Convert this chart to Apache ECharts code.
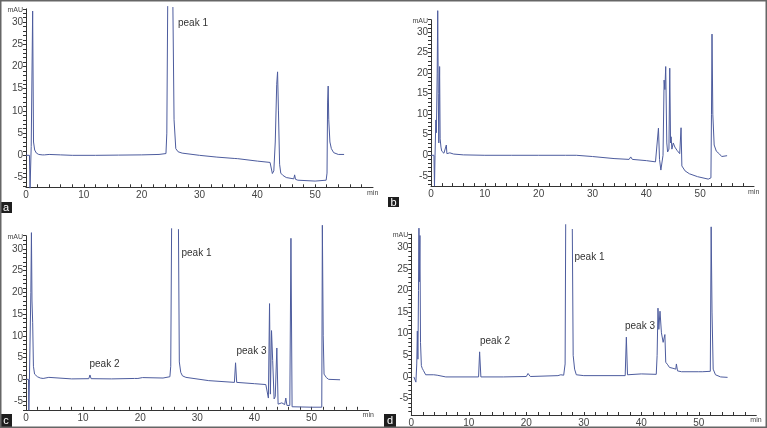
<!DOCTYPE html>
<html><head><meta charset="utf-8">
<script src="https://cdn.jsdelivr.net/npm/echarts@6/dist/echarts.min.js"></script>
<style>html,body{margin:0;padding:0;background:#fff}#c{width:767px;height:428px}</style>
</head><body><div id="c"></div>
<script>
// ---- data (retention time in min, absorbance in mAU; null = detector off-scale gap) ----
const aTime = [0,0.6,0.7,0.9,1.15,1.3,1.5,1.8,2.2,2.8,3.0,3.2,4,6,8,12,16,20,23,24.2,24.35,24.5,25.0,25.4,25.6,25.9,26.3,27,30,33,36,36.3,36.6,40,42.2,42.4,42.6,42.85,43.1,43.35,43.5,43.65,43.85,44.05,44.4,44.7,45,46.3,46.45,46.6,47,50,51.9,52.05,52.15,52.25,52.35,52.55,52.8,53.2,54,55];
const aMAU  = [0,0,-7.4,2,32.5,3,1.2,0.5,0.2,0.1,0.4,0.1,0.2,0.1,0,0,0.05,0.1,0.2,0.4,5,33.6,null,33.4,8,1.5,0.8,0.5,0,-0.4,-0.7,-0.4,-0.75,-1.3,-1.6,-1.8,-4.1,-3.5,3,16,18.8,10,-2,-4,-4.5,-4.2,-5,-5.3,-4.4,-5.4,-5.6,-5.8,-5.6,-4,12,15.6,8,3,1.5,0.6,0.2,0.2];

const bTime = [0,0.55,0.65,0.75,0.9,1.0,1.15,1.25,1.35,1.45,1.6,1.7,1.85,2.0,2.4,2.75,2.85,2.95,3.5,3.8,4.2,6,10,15,20,25,27,30,34,36.8,37.1,37.4,40,41.7,42.0,42.25,42.45,42.7,42.9,43.1,43.3,43.45,43.6,43.8,43.95,44.2,44.35,44.5,44.6,44.75,45.0,45.3,45.7,46.2,46.45,46.6,47.2,48,49.5,51.5,52.0,52.1,52.2,52.35,52.6,53.0,53.6,54,55];
const bMAU  = [0,0,-7.5,0,8.6,5.5,20,35.2,15,3,21.6,4,2,1,0.5,0.4,2.5,0.4,0.6,0.6,0.3,0.1,0,0,0,0,0,-0.3,-0.8,-1.0,-0.4,-1.0,-1.3,-1.6,-1.2,6.6,-1,-3.6,-4.0,0,18.3,16,21.6,3,0.8,1.5,21.2,3,4.5,1.5,3,2,1.2,0.4,6.7,-2.6,-3.8,-4.5,-5.2,-5.8,-5.5,10,29.5,10,2.5,1,0.3,-0.3,-0.1];

const cTime = [0,0.45,0.5,0.6,0.85,0.95,1.05,1.17,1.3,1.5,2.0,2.3,2.5,2.7,3.0,4.0,4.3,8,11.0,11.2,11.4,15,19.0,19.3,19.6,20.4,20.7,24,25.2,25.35,25.5,26.1,26.7,26.85,27.1,27.4,28,32,36.5,36.7,36.9,40,42.0,42.3,42.45,42.65,42.8,43.0,43.2,43.45,43.65,43.93,44.15,44.8,45.3,45.5,45.7,46.2,46.4,46.6,50,51.8,51.9,52.05,52.2,52.6,53,55];
const cMAU  = [0,0,-7.1,0,20,33.7,18,13,3,1.2,0.6,0.8,0.3,0.7,0.2,0.45,0.1,0.1,0.15,1.0,0.15,0.1,0.2,0.6,0.2,0.4,0.15,0.3,0.6,3,34.7,null,34.5,4,1.6,0.8,0.45,-0.3,-0.7,3.8,-0.7,-1.0,-1.2,-1.5,-4.3,17.4,-3.4,11.2,4.3,-4.5,-4,7.2,-5.7,-5.4,-5.8,-4.3,-6,-6,32.4,-6.3,-6.4,-6.4,35.4,10,1.2,0.4,0,-0.1];

const dTime = [0.45,0.7,0.8,0.95,1.05,1.15,1.25,1.33,1.4,1.5,1.6,1.75,1.9,2.1,2.5,3.9,4.1,4.5,4.7,6,11.7,11.88,12.1,16,20.0,20.3,20.7,25.5,26,26.5,26.75,26.85,27.4,28.0,28.15,28.4,28.7,30,37.2,37.4,37.6,40,42.6,42.75,42.9,43.05,43.25,43.5,43.8,44.1,44.25,44.6,44.9,45.5,46.0,46.1,46.3,47,50,50.3,50.6,52.0,52.15,52.3,52.5,52.9,53.8,55];
const dMAU  = [0,-0.3,-1.2,3,10.6,4.1,20,34.4,22,32.7,8,2.6,2.0,1.5,0.5,0.5,0.2,0.4,0.1,0,0,5.8,0,0,0.1,0.8,0.1,0.3,0.5,0.4,3,35.3,null,34.2,5,1.8,0.5,0.3,0.3,9.2,0.5,0.7,0.6,5,15.9,11,15.2,10.2,8,9.8,3.4,2.8,2.2,2.0,1.8,3,1.4,1.2,1.2,1.5,1.2,1.3,34.7,15,1.8,0.5,0,-0.1];

const xTickLabels = [0,10,20,30,40,50];
const xMinorTicks = [0,2,4,6,8,10,12,14,16,18,20,22,24,26,28,30,32,34,36,38,40,42,44,46,48,50,52,54,56,58];
const yTickLabels = [-5,0,5,10,15,20,25,30];
const panelLetters = ['a','b','c','d'];
const peakNames = ['peak 1','peak 2','peak 3'];

// ---- layout ----
const panels = [
  {time:aTime, mau:aMAU, ymin:-7.2, ymax:33, left:26,    top:8.8,   width:347, height:178.5},
  {time:bTime, mau:bMAU, ymin:-7.5, ymax:33, left:431,   top:19.7,  width:323, height:166.4},
  {time:cTime, mau:cMAU, ymin:-7,   ymax:33, left:26,    top:235.7, width:342.6, height:174.1},
  {time:dTime, mau:dMAU, ymin:-8.8, ymax:33, left:411.3, top:234.2, width:345, height:183.1}
];
const FONT = 'Liberation Sans, Arial, sans-serif';
const LINE = '#4d5c9e';
const AX = '#333';

function intTicks(a,b){const r=[];for(let v=Math.ceil(a);v<=Math.floor(b);v++)r.push(v);return r;}

const grid=[], xAxis=[], yAxis=[], series=[];
panels.forEach((p,i)=>{
  grid.push({left:p.left, top:p.top, width:p.width, height:p.height, containLabel:false});
  xAxis.push({type:'value', gridIndex:i, min:0, max:60,
    name:'min', nameLocation:'end', nameGap:-6,
    nameTextStyle:{fontSize:7, color:'#444', fontFamily:FONT, align:'left', verticalAlign:'top', padding:[2,0,0,0]},
    axisLine:{show:true, onZero:false, lineStyle:{color:AX, width:1}},
    axisTick:{show:true, inside:true, length:3, customValues:xMinorTicks, lineStyle:{color:AX, width:1}},
    axisLabel:{show:true, customValues:xTickLabels, fontSize:10, color:'#444', margin:3, fontFamily:FONT},
    splitLine:{show:false}});
  yAxis.push({type:'value', gridIndex:i, min:p.ymin, max:p.ymax,
    name:'mAU', nameLocation:'end', nameGap:-1,
    nameTextStyle:{fontSize:7, color:'#444', fontFamily:FONT, align:'right', verticalAlign:'middle', padding:[0,3,0,0]},
    axisLine:{show:true, lineStyle:{color:AX, width:1}},
    axisTick:{show:true, inside:false, length:3, customValues:intTicks(p.ymin,p.ymax), lineStyle:{color:AX, width:1}},
    axisLabel:{show:true, customValues:yTickLabels, fontSize:10, color:'#444', margin:3, fontFamily:FONT},
    splitLine:{show:false}});
  series.push({type:'line', xAxisIndex:i, yAxisIndex:i, showSymbol:false, symbol:'none', clip:false, connectNulls:false,
    lineStyle:{color:LINE, width:1}, data:p.time.map((t,k)=>[t, p.mau[k] === null ? '-' : p.mau[k]]), animation:false});
});

const textStyle = {fontSize:10, fill:'#333', fontFamily:FONT};
const peakLabels = [
  {name:peakNames[0], x:178,   y:23},
  {name:peakNames[0], x:181.5, y:253},
  {name:peakNames[1], x:89.5,  y:364.5},
  {name:peakNames[2], x:236.5, y:351},
  {name:peakNames[0], x:574.5, y:257},
  {name:peakNames[1], x:480,   y:341.5},
  {name:peakNames[2], x:625,   y:326}
];
const letterBoxes = [
  {x:0,   y:202, w:12, h:11},
  {x:388, y:197, w:11, h:10},
  {x:0,   y:414, w:12, h:13},
  {x:384, y:414, w:12, h:13}
];
const graphic = [];
peakLabels.forEach(l=>graphic.push({type:'text', x:l.x, y:l.y, style:Object.assign({text:l.name, verticalAlign:'middle', align:'left'}, textStyle)}));
letterBoxes.forEach((b,i)=>{
  graphic.push({type:'rect', shape:{x:b.x,y:b.y,width:b.w,height:b.h}, style:{fill:'#1e1e1e'}});
  graphic.push({type:'text', x:b.x+b.w/2, y:b.y+b.h/2+0.5, style:{text:panelLetters[i], fill:'#fff', fontSize:11, fontFamily:FONT, align:'center', verticalAlign:'middle'}});
});
graphic.push({type:'rect', shape:{x:0.75,y:0.75,width:765.5,height:426.5}, style:{fill:'none', stroke:'#666', lineWidth:1.5}, z:100});

const chart = echarts.init(document.getElementById('c'), null, {renderer:'canvas'});
chart.setOption({animation:false, backgroundColor:'#fff', grid, xAxis, yAxis, series, graphic});
</script></body></html>
